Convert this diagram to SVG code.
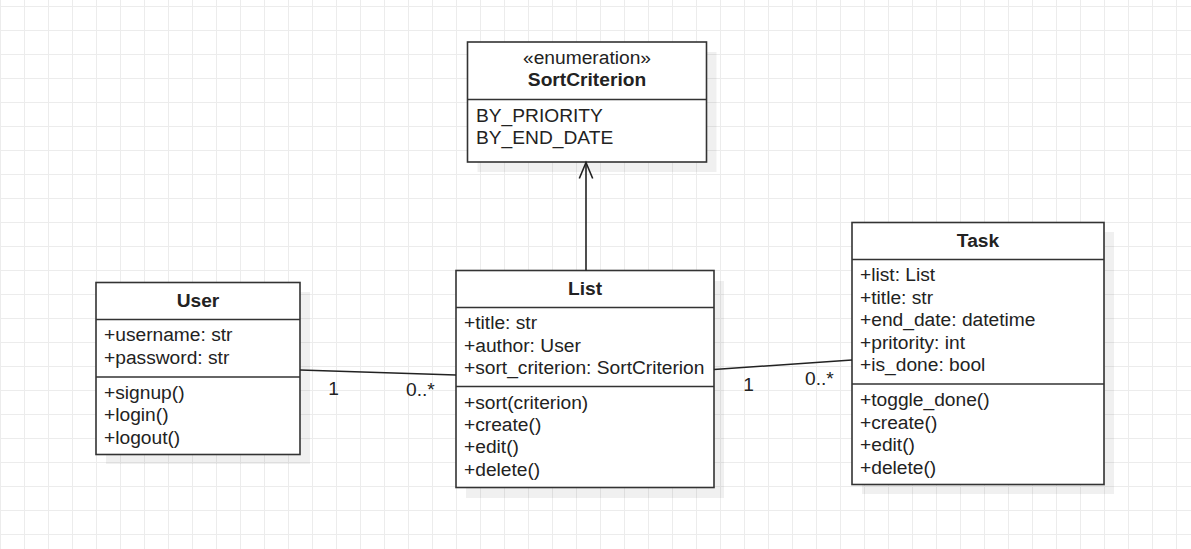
<svg xmlns="http://www.w3.org/2000/svg" width="1191" height="549" viewBox="0 0 1191 549">
<defs>
<pattern id="grid" width="24" height="24" patternUnits="userSpaceOnUse" x="0" y="6">
<path d="M0.5 0V24M0 0.5H24" fill="none" stroke="#ececec" stroke-width="1"/>
</pattern>
</defs>
<style>
.bg{fill:url(#grid)}
.shadow{fill:#000;fill-opacity:0.06}
.box{fill:#fff;stroke:#333;stroke-width:1.6}
.div{stroke:#333;stroke-width:1.6}
text{font-family:"Liberation Sans",Arial,sans-serif;font-size:19.2px;fill:#222}
.h{font-weight:bold;text-anchor:middle}
.c{text-anchor:middle}
.edge{fill:none;stroke:#222;stroke-width:1.6}
</style>
<rect width="1191" height="549" fill="#fff"/>
<rect width="1191" height="549" class="bg"/>

<g id="node-sortcriterion">
<rect class="shadow" x="477.5" y="52" width="239" height="120"/>
<rect class="box" x="467.5" y="42" width="239" height="120"/>
<line class="div" x1="467.5" y1="99.5" x2="706.5" y2="99.5"/>
<text class="c" x="587" y="63.5">«enumeration»</text>
<text class="h" x="587" y="85.5">SortCriterion</text>
<text x="476" y="121.5">BY_PRIORITY</text>
<text x="476" y="143.5">BY_END_DATE</text>
</g>

<g id="node-user">
<rect class="shadow" x="106" y="292" width="204" height="172"/>
<rect class="box" x="96" y="282.5" width="204" height="172"/>
<line class="div" x1="96" y1="319.5" x2="300" y2="319.5"/>
<line class="div" x1="96" y1="377" x2="300" y2="377"/>
<text class="h" x="198" y="306.5">User</text>
<text x="104" y="341">+username: str</text>
<text x="104" y="363.5">+password: str</text>
<text x="104" y="398.5">+signup()</text>
<text x="104" y="421">+login()</text>
<text x="104" y="443.5">+logout()</text>
</g>

<g id="node-list">
<rect class="shadow" x="466" y="281" width="258" height="217"/>
<rect class="box" x="456" y="270.5" width="258" height="217"/>
<line class="div" x1="456" y1="307.5" x2="714" y2="307.5"/>
<line class="div" x1="456" y1="386.5" x2="714" y2="386.5"/>
<text class="h" x="585" y="295">List</text>
<text x="464" y="329.3">+title: str</text>
<text x="464" y="351.8">+author: User</text>
<text x="464" y="374.3">+sort_criterion: SortCriterion</text>
<text x="464" y="408.7">+sort(criterion)</text>
<text x="464" y="431">+create()</text>
<text x="464" y="453.3">+edit()</text>
<text x="464" y="475.5">+delete()</text>
</g>

<g id="node-task">
<rect class="shadow" x="862" y="232" width="252" height="262"/>
<rect class="box" x="852" y="222.5" width="252" height="262"/>
<line class="div" x1="852" y1="259.5" x2="1104" y2="259.5"/>
<line class="div" x1="852" y1="384" x2="1104" y2="384"/>
<text class="h" x="978" y="246.7">Task</text>
<text x="860" y="281.3">+list: List</text>
<text x="860" y="303.8">+title: str</text>
<text x="860" y="326.3">+end_date: datetime</text>
<text x="860" y="348.8">+pritority: int</text>
<text x="860" y="371.3">+is_done: bool</text>
<text x="860" y="406">+toggle_done()</text>
<text x="860" y="428.5">+create()</text>
<text x="860" y="451">+edit()</text>
<text x="860" y="473.5">+delete()</text>
</g>

<g id="connectors">
<line class="edge" x1="300" y1="370" x2="456" y2="375"/>
<line class="edge" x1="714" y1="369.5" x2="852" y2="360"/>
<line class="edge" x1="586" y1="270.5" x2="586" y2="162"/>
<polyline class="edge" points="579.3,178.5 586,162.5 592.7,178.5"/>
<text class="c" x="333.5" y="395">1</text>
<text x="406" y="396">0..*</text>
<text class="c" x="748.5" y="391">1</text>
<text x="805" y="384.5">0..*</text>
</g>
</svg>
